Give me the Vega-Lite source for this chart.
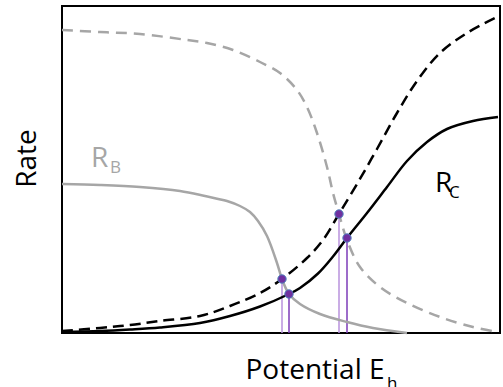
{
  "$schema": "https://vega.github.io/schema/vega-lite/v6.json",
  "width": 438,
  "height": 327,
  "autosize": {"type": "none"},
  "padding": {"left": 62, "top": 6, "right": 3, "bottom": 54},
  "background": "white",
  "config": {
    "view": {"stroke": "black", "strokeWidth": 2},
    "font": "Open Sans",
    "axis": {"labels": false, "ticks": false, "grid": false, "domain": false, "titleFont": "Open Sans", "titleFontSize": 28, "titleFontWeight": "normal", "titleColor": "black"}
  },
  "datasets": {
    "curves": [
      {"series": "RB_dashed", "x": 0, "y": 303}, {"series": "RB_dashed", "x": 38, "y": 301}, {"series": "RB_dashed", "x": 78, "y": 299},
      {"series": "RB_dashed", "x": 125, "y": 293}, {"series": "RB_dashed", "x": 145, "y": 290}, {"series": "RB_dashed", "x": 171, "y": 283},
      {"series": "RB_dashed", "x": 198, "y": 271}, {"series": "RB_dashed", "x": 218, "y": 260}, {"series": "RB_dashed", "x": 235, "y": 243},
      {"series": "RB_dashed", "x": 245, "y": 226}, {"series": "RB_dashed", "x": 255, "y": 200}, {"series": "RB_dashed", "x": 265, "y": 166},
      {"series": "RB_dashed", "x": 271, "y": 140}, {"series": "RB_dashed", "x": 277, "y": 119}, {"series": "RB_dashed", "x": 285, "y": 93},
      {"series": "RB_dashed", "x": 298, "y": 66}, {"series": "RB_dashed", "x": 318, "y": 46}, {"series": "RB_dashed", "x": 345, "y": 30},
      {"series": "RB_dashed", "x": 378, "y": 16}, {"series": "RB_dashed", "x": 411, "y": 6}, {"series": "RB_dashed", "x": 435, "y": 1},

      {"series": "RB_solid", "x": 0, "y": 149}, {"series": "RB_solid", "x": 38, "y": 148}, {"series": "RB_solid", "x": 78, "y": 146},
      {"series": "RB_solid", "x": 118, "y": 142}, {"series": "RB_solid", "x": 143, "y": 137}, {"series": "RB_solid", "x": 165, "y": 132},
      {"series": "RB_solid", "x": 178, "y": 127}, {"series": "RB_solid", "x": 188, "y": 121}, {"series": "RB_solid", "x": 196, "y": 112},
      {"series": "RB_solid", "x": 205, "y": 97}, {"series": "RB_solid", "x": 215, "y": 70}, {"series": "RB_solid", "x": 220, "y": 54},
      {"series": "RB_solid", "x": 227, "y": 39}, {"series": "RB_solid", "x": 238, "y": 29}, {"series": "RB_solid", "x": 258, "y": 19},
      {"series": "RB_solid", "x": 285, "y": 11}, {"series": "RB_solid", "x": 311, "y": 5}, {"series": "RB_solid", "x": 345, "y": 0},

      {"series": "RC_dashed", "x": 0, "y": 2}, {"series": "RC_dashed", "x": 38, "y": 5}, {"series": "RC_dashed", "x": 68, "y": 8},
      {"series": "RC_dashed", "x": 98, "y": 12}, {"series": "RC_dashed", "x": 138, "y": 17}, {"series": "RC_dashed", "x": 168, "y": 27},
      {"series": "RC_dashed", "x": 198, "y": 40}, {"series": "RC_dashed", "x": 220, "y": 54}, {"series": "RC_dashed", "x": 245, "y": 75},
      {"series": "RC_dashed", "x": 261, "y": 93}, {"series": "RC_dashed", "x": 277, "y": 119}, {"series": "RC_dashed", "x": 295, "y": 149},
      {"series": "RC_dashed", "x": 315, "y": 184}, {"series": "RC_dashed", "x": 335, "y": 220}, {"series": "RC_dashed", "x": 355, "y": 252},
      {"series": "RC_dashed", "x": 378, "y": 280}, {"series": "RC_dashed", "x": 405, "y": 300}, {"series": "RC_dashed", "x": 435, "y": 316},

      {"series": "RC_solid", "x": 0, "y": 1}, {"series": "RC_solid", "x": 38, "y": 2}, {"series": "RC_solid", "x": 68, "y": 3.5},
      {"series": "RC_solid", "x": 98, "y": 5.5}, {"series": "RC_solid", "x": 138, "y": 10}, {"series": "RC_solid", "x": 168, "y": 17},
      {"series": "RC_solid", "x": 198, "y": 26.5}, {"series": "RC_solid", "x": 227, "y": 39}, {"series": "RC_solid", "x": 238, "y": 45},
      {"series": "RC_solid", "x": 256, "y": 59.5}, {"series": "RC_solid", "x": 271, "y": 76.5}, {"series": "RC_solid", "x": 285, "y": 95},
      {"series": "RC_solid", "x": 305, "y": 120}, {"series": "RC_solid", "x": 325, "y": 146}, {"series": "RC_solid", "x": 345, "y": 172},
      {"series": "RC_solid", "x": 365, "y": 191}, {"series": "RC_solid", "x": 385, "y": 204}, {"series": "RC_solid", "x": 411, "y": 212},
      {"series": "RC_solid", "x": 436, "y": 216}
    ],
    "crossings": [
      {"x": 220, "y": 54, "rc": "dashed"},
      {"x": 227, "y": 39, "rc": "solid"},
      {"x": 277, "y": 119, "rc": "dashed"},
      {"x": 285, "y": 95, "rc": "solid"}
    ],
    "names": [
      {"x": 29, "y": 166, "text": "R", "curve": "RB", "part": "main"},
      {"x": 48, "y": 160, "text": "B", "curve": "RB", "part": "sub"},
      {"x": 373, "y": 141, "text": "R", "curve": "RC", "part": "main"},
      {"x": 387, "y": 135, "text": "C", "curve": "RC", "part": "sub"}
    ]
  },
  "layer": [
    {
      "data": {"name": "crossings"},
      "mark": {"type": "rule", "strokeWidth": 1.5},
      "encoding": {
        "x": {"field": "x", "type": "quantitative", "scale": {"domain": [0, 438], "nice": false, "zero": false},
              "axis": {"title": "Potential E", "titleAlign": "left", "titleBaseline": "alphabetic", "titleX": 183, "titleY": 45, "titleAngle": 0}},
        "y": {"field": "y", "type": "quantitative", "scale": {"domain": [0, 327], "nice": false, "zero": false},
              "axis": {"title": "Rate", "titleAlign": "center", "titleBaseline": "alphabetic", "titleX": -27, "titleY": 152, "titleAngle": 270}},
        "y2": {"datum": 0},
        "color": {"field": "rc", "type": "nominal", "legend": null,
                  "scale": {"domain": ["dashed", "solid"], "range": ["#b892dc", "#7d3bb8"]}}
      }
    },
    {
      "data": {"name": "curves"},
      "transform": [{"filter": "datum.series === 'RB_dashed'"}],
      "mark": {"type": "line", "interpolate": "catmull-rom", "color": "#a6a6a6", "strokeWidth": 2.5, "strokeDash": [11, 7]},
      "encoding": {"x": {"field": "x", "type": "quantitative"}, "y": {"field": "y", "type": "quantitative"}}
    },
    {
      "data": {"name": "curves"},
      "transform": [{"filter": "datum.series === 'RB_solid'"}],
      "mark": {"type": "line", "interpolate": "catmull-rom", "color": "#a6a6a6", "strokeWidth": 2.5},
      "encoding": {"x": {"field": "x", "type": "quantitative"}, "y": {"field": "y", "type": "quantitative"}}
    },
    {
      "data": {"name": "curves"},
      "transform": [{"filter": "datum.series === 'RC_dashed'"}],
      "mark": {"type": "line", "interpolate": "catmull-rom", "color": "black", "strokeWidth": 2.5, "strokeDash": [11, 6]},
      "encoding": {"x": {"field": "x", "type": "quantitative"}, "y": {"field": "y", "type": "quantitative"}}
    },
    {
      "data": {"name": "curves"},
      "transform": [{"filter": "datum.series === 'RC_solid'"}],
      "mark": {"type": "line", "interpolate": "catmull-rom", "color": "black", "strokeWidth": 2.5},
      "encoding": {"x": {"field": "x", "type": "quantitative"}, "y": {"field": "y", "type": "quantitative"}}
    },
    {
      "data": {"name": "crossings"},
      "mark": {"type": "point", "filled": true, "fill": "#7030a0", "stroke": "#4f81bd", "strokeWidth": 1, "size": 70, "opacity": 1},
      "encoding": {"x": {"field": "x", "type": "quantitative"}, "y": {"field": "y", "type": "quantitative"}}
    },
    {
      "data": {"name": "names"},
      "transform": [{"filter": "datum.curve === 'RB' && datum.part === 'main'"}],
      "mark": {"type": "text", "align": "left", "baseline": "alphabetic", "fontSize": 28, "font": "Open Sans", "color": "#a6a6a6"},
      "encoding": {"x": {"field": "x", "type": "quantitative"}, "y": {"field": "y", "type": "quantitative"}, "text": {"field": "text"}}
    },
    {
      "data": {"name": "names"},
      "transform": [{"filter": "datum.curve === 'RB' && datum.part === 'sub'"}],
      "mark": {"type": "text", "align": "left", "baseline": "alphabetic", "fontSize": 17, "font": "Open Sans", "color": "#a6a6a6"},
      "encoding": {"x": {"field": "x", "type": "quantitative"}, "y": {"field": "y", "type": "quantitative"}, "text": {"field": "text"}}
    },
    {
      "data": {"name": "names"},
      "transform": [{"filter": "datum.curve === 'RC' && datum.part === 'main'"}],
      "mark": {"type": "text", "align": "left", "baseline": "alphabetic", "fontSize": 28, "font": "Open Sans", "color": "black"},
      "encoding": {"x": {"field": "x", "type": "quantitative"}, "y": {"field": "y", "type": "quantitative"}, "text": {"field": "text"}}
    },
    {
      "data": {"name": "names"},
      "transform": [{"filter": "datum.curve === 'RC' && datum.part === 'sub'"}],
      "mark": {"type": "text", "align": "left", "baseline": "alphabetic", "fontSize": 17, "font": "Open Sans", "color": "black"},
      "encoding": {"x": {"field": "x", "type": "quantitative"}, "y": {"field": "y", "type": "quantitative"}, "text": {"field": "text"}}
    },
    {
      "data": {"values": [{"x": 325, "y": -56, "text": "h"}]},
      "mark": {"type": "text", "align": "left", "baseline": "alphabetic", "fontSize": 17, "font": "Open Sans", "color": "black"},
      "encoding": {"x": {"field": "x", "type": "quantitative"}, "y": {"field": "y", "type": "quantitative"}, "text": {"field": "text"}}
    }
  ]
}
